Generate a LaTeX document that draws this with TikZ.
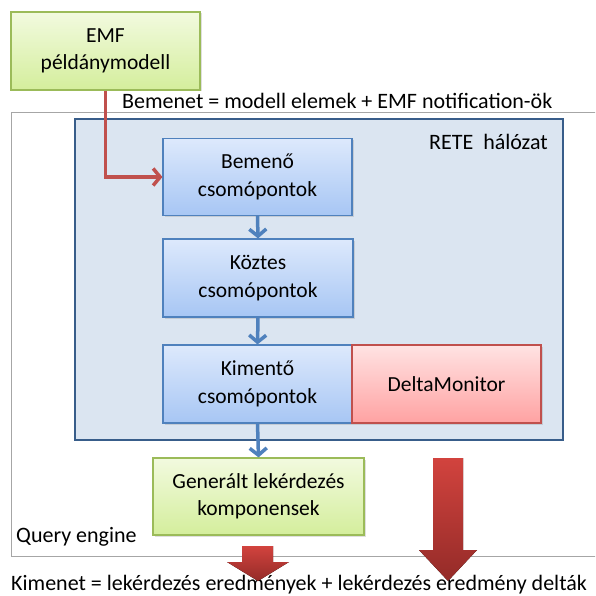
\documentclass[tikz,border=0pt]{standalone}
\usepackage{fontspec}
\setmainfont{Carlito}
\usetikzlibrary{arrows.meta,shadows}
\definecolor{grnborder}{HTML}{9BBB59}
\definecolor{grntop}{HTML}{F2FADF}
\definecolor{grnbot}{HTML}{D4EE9C}
\definecolor{bluborder}{HTML}{4F81BD}
\definecolor{blutop}{HTML}{DDE9FC}
\definecolor{blubot}{HTML}{A7C6F4}
\definecolor{redborder}{HTML}{C0504D}
\definecolor{redtop}{HTML}{FFE3E3}
\definecolor{redbot}{HTML}{FFA2A2}
\definecolor{retefill}{HTML}{DBE5F1}
\definecolor{reteborder}{HTML}{385D8A}
\definecolor{engborder}{HTML}{A6A6A6}
\definecolor{bigtop}{HTML}{D2433E}
\definecolor{bigbot}{HTML}{942B28}
\tikzset{
  x=1pt, y=-1pt,
  box/.style={draw, line width=1.2pt, align=center, inner sep=0pt,
    font=\fontsize{21.5}{27.5}\selectfont,
    drop shadow={opacity=0.25, shadow xshift=1.5pt, shadow yshift=-1.5pt}},
  greenbox/.style={box, draw=grnborder, top color=grntop, bottom color=grnbot},
  bluebox/.style={box, draw=bluborder, top color=blutop, bottom color=blubot},
  redbox/.style={box, draw=redborder, top color=redtop, bottom color=redbot},
  flow/.style={draw=bluborder, line width=3.5pt,
    -{Straight Barb[length=7pt, width=17pt, line width=3.5pt]}},
  feed/.style={draw=redborder, line width=3.5pt,
    -{Straight Barb[length=7pt, width=17pt, line width=3.5pt]}},
  label/.style={font=\fontsize{22}{28}\selectfont, inner sep=0pt},
  bigarrow/.style={top color=bigtop, bottom color=bigbot, draw=none}
}
\begin{document}
\begin{tikzpicture}
\useasboundingbox (0,0) rectangle (595,596);
\clip (0,0) rectangle (595,596);
\fill[white] (0,0) rectangle (595,596);

% Query engine frame (open to the right)
\draw[engborder, line width=1pt] (600,113) -- (11,113) -- (11,556) -- (600,556);
\node[label, anchor=west] (qe) at (16,537) {Query engine};

% RETE network area
\draw[reteborder, fill=retefill, line width=1.2pt] (75,119) rectangle (563,440);
\node[label, anchor=east] (rete) at (548,142) {RETE\ \ hálózat};

% Nodes
\node[greenbox, minimum width=189pt, minimum height=78pt] (emf) at (105.5,51) {EMF\\példánymodell};
\node[bluebox, minimum width=189pt, minimum height=77pt] (bem) at (257.5,177) {Bemenő\\csomópontok};
\node[bluebox, minimum width=190pt, minimum height=78pt] (koz) at (258,278) {Köztes\\csomópontok};
\node[bluebox, minimum width=189pt, minimum height=78pt] (kim) at (257.5,384) {Kimentő\\csomópontok};
\node[redbox, minimum width=189pt, minimum height=78pt] (delta) at (446.5,384) {DeltaMonitor};
\node[greenbox, minimum width=211pt, minimum height=77pt] (gen) at (258.5,496.5) {Generált lekérdezés\\komponensek};

% Input / output captions
\node[label, anchor=west] (inp) at (122,101) {Bemenet = modell elemek + EMF notification-ök};
\node[label, anchor=base west] (outp) at (11,590) {Kimenet = lekérdezés eredmények + lekérdezés eredmény delták};

% Connectors
\coordinate (bend) at (emf.south |- bem.west);
\draw[feed] (emf.south) -- (bend) -- (bem.west);
\draw[flow] (bem.south) -- (koz.north);
\draw[flow] (koz.south) -- (kim.north);
\draw[flow] (kim.south) -- (gen.north);

% Output block arrows
\fill[bigarrow] (433,458) -- (463,458) -- (463,550) -- (477,550) -- (448,581)
  -- (419,550) -- (433,550) -- cycle;
\fill[bigarrow] (242,546) -- (273,546) -- (273,562) -- (289,562) -- (258,581)
  -- (227,562) -- (242,562) -- cycle;
\end{tikzpicture}
\end{document}
